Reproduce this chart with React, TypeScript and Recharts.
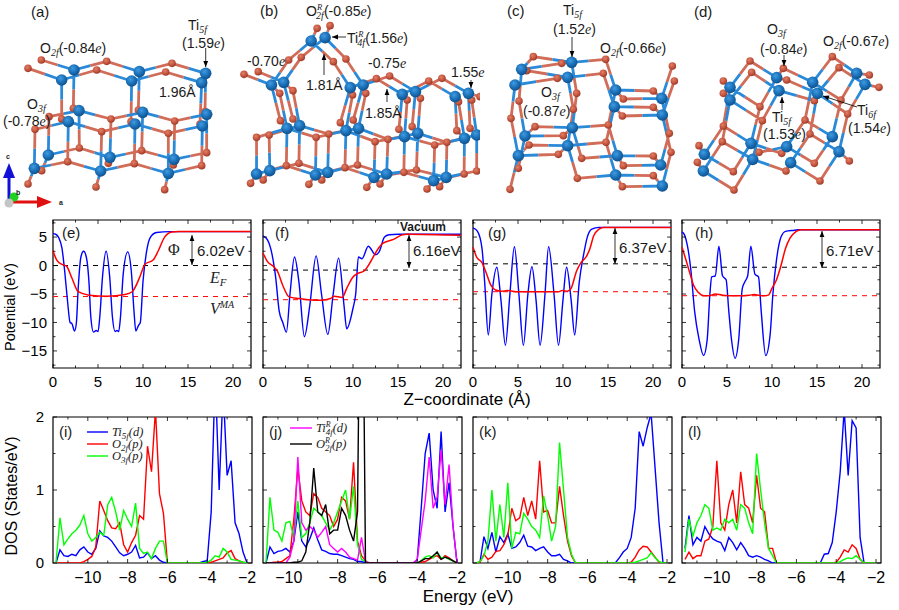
import React from "react";
import { ComposedChart, Line, Scatter, XAxis, YAxis, ReferenceLine, ReferenceArea } from "recharts";

// ---------- potential panels: [z, V] ----------
const potEBlue = [[0,5.6],[0.3,5.5],[0.6,5],[1,3],[1.3,-1],[1.6,-6],[1.9,-10],[2.1,-10.2],[2.4,-11.5],[2.6,-10],[2.8,-4],[3.1,1.5],[3.4,2.5],[3.7,1.5],[4,-3],[4.2,-9],[4.5,-11.7],[4.8,-11.4],[5,-11.6],[5.2,-9],[5.5,-2],[5.9,2.5],[6.3,-2],[6.6,-9],[6.9,-11.6],[7.1,-11.4],[7.3,-11.6],[7.5,-9],[7.8,-1.5],[8.3,2.4],[8.7,-1],[9,-8],[9.2,-11.5],[9.5,-10.5],[9.7,-10],[10,-2.8],[10.4,2.5],[10.8,4.9],[11.5,5.8],[13,5.95],[22,5.95]];
const potERed = [[0,2.6],[0.4,1],[1,0.2],[1.5,-0.1],[2.1,-2.2],[2.8,-4.6],[4,-5.2],[6,-5.4],[8,-5.1],[8.8,-4.6],[9.7,-1.8],[10.2,0.2],[11.15,1],[11.7,2.6],[12.4,5],[13.2,5.9],[14,6],[22,6]];
const potFBlue = [[0,5.2],[0.5,4.5],[1,2],[1.4,-2],[1.8,-8],[2.2,-10],[2.6,-11.7],[3,-5],[3.5,1.5],[4,-3],[4.6,-12.5],[5.2,-7],[5.9,1.7],[6.5,-5],[7.2,-12.1],[7.8,-5],[8.4,1.3],[9,-7],[9.3,-11.1],[10,-7.5],[10.3,-5],[10.6,1.5],[11,1.2],[11.7,3.4],[12.5,1.9],[12.9,2.4],[13.5,5],[14,5.4],[15,5.5],[22,5.5]];
const potFRed = [[0,2.2],[0.5,0.7],[1.2,-0.2],[1.6,-1],[2.2,-3.5],[2.9,-5.5],[4,-5.8],[5,-6],[6.5,-6.1],[7.5,-5.8],[7.9,-5.4],[8.8,-5.6],[9.3,-4],[10,-2],[10.5,-1.4],[11.2,-1],[12,0.8],[12.6,2.5],[13.3,3.9],[14.5,4.6],[15.5,5.4],[16,5.5],[22,5.3]];
const potGBlue = [[0,6.6],[0.5,6],[1,3],[1.3,-3],[1.7,-12.2],[2.1,-5],[2.65,-0.3],[3.1,-6],[3.6,-14],[4.1,-5],[4.6,3.3],[5.1,-5],[5.6,-14],[6.1,-5],[6.55,-0.2],[7,-6],[7.45,-14],[8,-5],[8.4,3.3],[9,-5],[9.5,-14],[10,-6],[10.4,-0.3],[10.9,-6],[11.3,-12.2],[11.8,-3],[12.3,2],[12.7,5],[13.2,6.4],[14,6.7],[22,6.7]];
const potGRed = [[0,3.2],[0.4,1.5],[1,0.5],[1.4,-1],[2,-3.5],[2.5,-4.3],[3.2,-4.5],[3.8,-4.4],[5,-4.6],[8,-4.6],[9.5,-4.6],[9.9,-4.4],[10.5,-4.5],[10.9,-4],[11.5,-1],[12,0.5],[12.6,1.6],[13,3],[13.4,5.2],[14,6.4],[14.5,6.7],[22,6.7]];
const potHBlue = [[0,5.9],[0.3,5.3],[0.6,3.5],[1,-1],[1.4,-8],[1.9,-13],[2.4,-15.8],[2.8,-13],[3.1,-5],[3.3,-2],[3.7,-1.8],[4.1,3.4],[4.5,-1.8],[4.9,-2.5],[5.2,-8],[5.5,-13],[5.9,-16.3],[6.3,-13],[6.7,-4],[7,-2.8],[7.3,-1.8],[7.65,3.4],[8.1,-1.5],[8.5,-2],[8.8,-8],[9.3,-15.8],[9.8,-12],[10.1,-5],[10.5,1],[11,5],[11.5,6],[12.5,6.2],[13,6.3],[22,6.3]];
const potHRed = [[0,3.2],[0.4,1.2],[0.9,-1.5],[1.3,-3.5],[1.8,-4.7],[2.4,-5.3],[3,-5.3],[3.7,-5],[4.5,-5.2],[6,-5.3],[7.5,-5.2],[8,-5.1],[9,-5.3],[9.6,-5.2],[10,-4],[10.5,-2.5],[11,0],[11.5,3],[12,4.8],[12.7,6],[13.2,6.3],[22,6.3]];
const fermiLevels = [0, -0.8, 0.3, -0.3];
const macroAverages = [-5.45, -6, -4.6, -5.3];
const potXTicks = [0, 2.5, 5, 7.5, 10, 12.5, 15, 17.5, 20];
const potYTicks = [-17.5, -15, -12.5, -10, -7.5, -5, -2.5, 0, 2.5, 5, 7.5];

// ---------- DOS panels, all on one energy grid ----------
const energy = [-11.6,-11.4,-11.2,-11,-10.8,-10.6,-10.4,-10.2,-10,-9.8,-9.6,-9.4,-9.2,-9,-8.8,-8.6,-8.4,-8.2,-8,-7.8,-7.6,-7.4,-7.2,-7,-6.8,-6.6,-6.4,-6.2,-6,-5.8,-5.6,-5.4,-5.2,-5,-4.8,-4.6,-4.4,-4.2,-4,-3.8,-3.6,-3.4,-3.2,-3,-2.8,-2.6,-2.4,-2.2,-2];
const dosITi = [0,.18,.1,.09,.12,.1,.18,.22,.15,.12,.2,.44,.37,.35,.3,.22,.14,.1,.12,.15,.24,.07,.08,.14,.06,.1,.04,.01,0,0,0,0,0,0,0,0,0,.02,.03,.7,2.6,1,2.4,1.2,1.4,.55,.4,.15,0];
const dosIO2 = [0,0,0,0,0,0,0,.02,.05,.09,.22,.85,.72,.58,.48,.47,.55,.25,.15,.28,.38,.65,.6,1.6,1.25,2.1,.95,.68,0,0,0,0,0,0,0,0,0,0,0,.01,.03,.05,.07,.14,.17,.06,.03,.01,0];
const dosIO3 = [0,.62,.25,.33,.4,.45,.52,.65,.4,.3,.35,.42,.38,.8,.9,.7,.45,.72,.6,.5,.82,.2,.13,.15,.06,.2,.3,.3,0,0,0,0,0,0,0,0,0,0,.01,.04,.1,.08,.2,.15,.05,.04,.03,.01,0];
const dosJTi = [0,.22,.13,.16,.17,.2,.15,.3,.7,.3,.22,.33,.48,.32,.18,.16,.13,.12,.12,.1,.08,.06,.05,.02,.02,0,0,0,0,0,0,0,0,0,0,0,0,0,.04,.75,1.5,1.78,1,.75,1.8,.7,1.1,.5,0];
const dosJO2 = [0,0,.01,.01,.02,.06,.1,.6,1.3,.85,.7,.65,.95,.9,.75,.7,.65,.5,.6,.9,.85,.6,1.38,.3,.1,.03,0,0,0,0,0,0,0,0,0,0,0,0,0,.01,.02,.05,.08,.1,.05,.1,.07,.03,0];
const dosJO3 = [0,.9,.45,.42,.3,.55,.57,.35,.85,.35,.4,.55,.75,.7,.65,.55,.45,.55,.7,.85,1,.6,1.05,.25,.05,.02,0,0,0,0,0,0,0,0,0,0,0,0,0,.03,.08,.1,.07,.15,.07,.08,.05,.03,0];
const dosJTiR = [0,0,0,0,0,0,.08,.3,1.45,.55,.45,.5,.45,.35,.42,.5,.25,.2,.15,.2,.15,.08,.06,.04,.35,.02,0,0,0,0,0,0,0,0,0,0,0,0,.05,.45,.85,1.45,.75,.9,1.55,.8,1.35,.5,0];
const dosJO2R = [0,0,0,0,0,0,0,.01,.01,.03,.15,.55,1.3,.7,.65,.8,.4,.45,.45,.75,.65,.45,.3,.7,6,0,0,0,0,0,0,0,0,0,0,0,0,0,0,.03,.06,.06,.1,.15,.05,.08,.06,.03,0];
const dosKTi = [0,.01,.36,.2,.42,.15,.36,.28,.4,.2,.22,.28,.38,.23,.22,.17,.2,.22,.15,.1,.1,.12,.05,.03,0,0,0,0,0,0,0,0,0,0,0,0,.07,.15,.2,.35,.75,1.8,1.6,1.85,2.05,1.3,.55,0,0];
const dosKO2 = [0,.01,.12,.05,.08,.16,.17,.25,.38,.75,.58,.62,.9,.65,.85,.6,1.4,.7,.72,.55,.55,1.05,.65,.3,.1,0,0,0,0,0,0,0,0,0,0,0,0,0,0,.01,.08,.18,.23,.22,.15,.08,.01,0,0];
const dosKO3 = [0,.02,.1,.3,1,.3,.8,.35,1.1,.2,.42,.4,.68,.6,.5,.45,.35,.92,.65,.3,.5,1.65,1,.35,.12,0,0,0,0,0,0,0,0,0,0,0,0,0,0,0,.01,.03,.05,.07,.14,.07,.02,0,0];
const dosLTi = [.2,.65,.25,.35,.3,.5,.4,.33,.3,.28,.17,.35,.28,.18,.28,.2,.1,.08,.1,.08,.05,.03,0,0,0,0,0,0,0,0,0,0,0,0,0,.12,.13,.28,.7,1.25,2.1,1.2,1.95,1.85,.35,0,0,0,0];
const dosLO2 = [.05,.15,.06,.1,.1,.3,.33,.5,1.4,.55,.45,.8,1,.55,1.25,.8,.75,.55,1.2,.75,.7,.2,.2,0,0,0,0,0,0,0,0,0,0,0,0,0,0,0,.01,.08,.18,.15,.25,.2,.05,0,0,0,0];
const dosLO3 = [.15,.6,.37,.55,.65,.8,.75,.45,.48,.45,.6,.55,.6,.45,.8,.75,.55,.4,1.5,1,.55,.2,.1,0,0,0,0,0,0,0,0,0,0,0,0,0,0,0,0,.02,.05,.07,.06,.1,.05,0,0,0,0];
const dosXTicks = [-11, -10, -9, -8, -7, -6, -5, -4, -3, -2];
const dosYTicks = [0, 0.5, 1, 1.5, 2];

// ---------- slab structures: chains of atoms in crop pixels x3, alternating O, Ti, O ... ----------
const slabA = [
  [84,205,185,240,290,210,395,243,497,216,605,248],
  [124,180,222,210,320,184,418,215,516,190,617,220],
  [185,357,185,240],[220,325,222,210],[393,365,395,243],[415,330,418,215],[600,372,605,248],[615,335,617,220],
  [105,388,205,365,305,395,405,372,505,400,607,378],
  [147,350,237,332,333,357,428,337,524,363,620,343],
  [203,485,205,365],[403,491,405,372],[605,497,607,378],[238,444,237,332],[425,452,428,337],[620,458,620,343],
  [105,388,103,505],[305,395,302,513],[505,400,505,520],[333,357,330,472],[524,363,522,478],[147,350,145,465],
  [203,485,103,505],[203,485,302,513,403,491,505,520,605,497],
  [238,444,145,465],[238,444,330,472,425,452,522,478,620,458],
  [84,552,103,505],[288,561,302,513],[494,569,505,520],[125,512,145,465],[325,490,330,472],[520,495,522,478],
];
const slabB = [
  [12,223,95,255,147,180,215,123,282,185,333,263,412,236,490,283,570,243,650,290],
  [55,215,132,247,185,172,257,113,320,177,372,255,452,228,530,275,610,235,690,280],
  [725,290,690,280],[233,85,215,123],[272,77,257,113],
  [122,362,95,255],[122,362,142,385],[160,357,132,247],[160,357,180,377],
  [303,368,333,263],[303,368,320,392],[342,360,372,255],[342,360,358,385],
  [480,388,490,283],[480,388,497,410],[520,380,530,275],[520,380,537,400],
  [655,392,650,290],[655,392,678,415],[695,385,690,280],[695,385,715,405],
  [120,280,95,255],[120,280,142,385],[160,272,132,247],[160,272,180,377],
  [340,285,333,263],[340,285,320,392],[380,280,372,255],[380,280,358,385],
  [505,300,490,283],[505,300,497,410],[545,295,530,275],[545,295,537,400],
  [660,305,650,290],[660,305,678,415],[700,300,690,280],[700,300,715,405],
  [50,412,142,385,230,412,320,392,408,425,497,410,588,435,678,415],
  [88,405,180,377,268,402,358,385,447,418,537,400,625,427,715,405],
  [50,412,50,522],[88,405,90,512],[230,412,228,525],[268,402,265,517],[408,425,405,532],[447,418,443,522],[588,435,585,542],[625,427,623,532],
  [140,497,142,385],[178,490,180,377],[317,503,320,392],[355,495,358,385],[495,517,497,410],[533,510,537,400],[677,522,678,415],[715,513,715,405],
  [140,497,50,522],[140,497,228,525,317,503,405,532,495,517,585,542,677,522],
  [178,490,90,512],[178,490,265,517,355,495,443,522,533,510,623,532,715,513],
  [32,550,50,522],[70,540,90,512],[208,553,228,525],[247,540,265,517],[383,562,405,532],[423,552,443,522],[565,567,585,542],[603,560,623,532],
];
const slabC = [
  [160,170,125,208],[160,170,275,187,377,178],[140,212,263,232,370,220],[245,190,125,208],[232,235,105,255],[245,190,275,187],[232,235,263,232],[140,212,125,208],
  [290,280,275,187],[290,280,277,383],[280,328,263,232],[280,328,263,437],
  [377,178,407,270],[370,220,403,320],[520,273,407,270],[520,273,545,295],[520,322,403,320],[520,322,547,345],
  [430,297,407,270],[430,297,545,295],[427,348,403,320],[427,348,547,345],
  [577,198,545,295],[583,243,547,345],[568,400,545,295],[568,400,542,495],[573,457,547,345],[573,457,547,558],
  [385,375,407,270],[385,375,412,467],[378,427,403,320],[378,427,407,525],
  [520,468,412,467],[520,468,542,495],[520,527,407,525],[520,527,547,558],[430,497,412,467],[430,497,542,495],[427,560,407,525],[427,560,547,558],
  [385,375,277,383],[378,427,263,437],[305,475,277,383],[305,475,412,467],[292,535,263,437],[292,535,407,525],
  [165,380,135,408],[165,380,277,383],[147,435,115,467],[147,435,263,437],[250,407,135,408],[250,407,277,383],[235,463,115,467],[235,463,263,437],
  [117,303,125,208],[117,303,135,408],[93,355,105,255],[93,355,115,467],[115,505,135,408],[90,568,115,467],
];
const slabD = [
  [210,183,150,262],[215,217,150,300],[210,183,290,233,320,240],[215,217,297,272,403,302,412,280],
  [310,205,290,233],[310,205,398,247,483,300,530,220,457,170,398,247],[320,240,412,280,503,342,555,253,477,203,412,280],
  [240,320,150,262],[240,320,290,233],[247,362,150,300],[247,362,297,272],
  [375,360,398,247],[375,360,320,440],[390,402,412,280],[390,402,332,488],
  [483,300,457,410],[503,342,477,455],[568,225,530,220],[597,262,555,253],[130,243,150,262],[130,280,150,300],
  [130,378,150,262],[130,378,73,463],[127,425,150,300],[127,425,70,513],
  [57,437,73,463],[52,487,70,513],[160,515,73,463],[160,515,213,430],[162,570,70,513],[162,570,218,478],
  [240,320,213,430],[247,362,218,478],[130,378,213,430],[127,425,218,478],
  [305,460,213,430],[305,460,320,440],[318,513,218,478],[318,513,332,488],[237,457,213,430],[237,457,320,440],
  [403,490,320,440],[403,490,457,410],[420,543,332,488],[420,543,477,455],[375,360,457,410],[390,402,477,455],[508,483,477,455],
];

const FONT = "'Liberation Sans', Arial, sans-serif";
const SERIF = "'Liberation Serif', serif";

const toRows = (pts: number[][]) => pts.map(([x, y]) => ({ x, y }));
const dosRows = (vals: number[]) => energy.map((x, i) => ({ x, y: vals[i] ?? 0 }));

function buildSlab(chains: number[][]) {
  const blue: any[] = [];
  const red: any[] = [];
  const ti = new Map<string, any>();
  const ox = new Map<string, any>();
  chains.forEach((c) => {
    for (let i = 0; i + 3 < c.length; i += 2) {
      const a = { x: c[i], y: c[i + 1] };
      const b = { x: c[i + 2], y: c[i + 3] };
      const oAtom = (i / 2) % 2 === 0 ? a : b;
      const tiAtom = (i / 2) % 2 === 0 ? b : a;
      const mx = (a.x + b.x) / 2;
      const my = (a.y + b.y) / 2;
      blue.push(tiAtom, { x: mx, y: my }, { x: mx, y: null });
      red.push(oAtom, { x: mx, y: my }, { x: mx, y: null });
      ti.set(tiAtom.x + "," + tiAtom.y, tiAtom);
      ox.set(oAtom.x + "," + oAtom.y, oAtom);
    }
  });
  return { blue, red, ti: [...ti.values()], ox: [...ox.values()] };
}

function Slab({ id, chains, left, top, w, h }: any) {
  const s = buildSlab(chains);
  return (
    <div style={{ position: "absolute", left, top }}>
      <ComposedChart width={w} height={h} margin={{ top: 0, right: 0, bottom: 0, left: 0 }} accessibilityLayer={false}>
        <defs>
          <radialGradient id={id + "ti"} cx="40%" cy="35%" r="70%">
            <stop offset="0%" stopColor="#3f9be2" />
            <stop offset="55%" stopColor="#1a6fb6" />
            <stop offset="100%" stopColor="#0f4c85" />
          </radialGradient>
          <radialGradient id={id + "ox"} cx="40%" cy="35%" r="70%">
            <stop offset="0%" stopColor="#e08068" />
            <stop offset="60%" stopColor="#c4523b" />
            <stop offset="100%" stopColor="#8e3627" />
          </radialGradient>
        </defs>
        <XAxis type="number" dataKey="x" domain={[0, w * 3]} hide />
        <YAxis type="number" dataKey="y" domain={[0, h * 3]} reversed hide />
        <Line data={s.red} dataKey="y" stroke="#d06c58" strokeWidth={2.8} dot={false} activeDot={false} legendType="none" isAnimationActive={false} />
        <Line data={s.blue} dataKey="y" stroke="#2b8ad8" strokeWidth={2.8} dot={false} activeDot={false} legendType="none" isAnimationActive={false} />
        <Scatter data={s.ox} dataKey="y" isAnimationActive={false} shape={(p: any) => <circle cx={p.cx} cy={p.cy} r={3.8} fill={`url(#${id}ox)`} />} />
        <Scatter data={s.ti} dataKey="y" isAnimationActive={false} shape={(p: any) => <circle cx={p.cx} cy={p.cy} r={5.8} fill={`url(#${id}ti)`} />} />
      </ComposedChart>
    </div>
  );
}

const xTickMaker = (plotH: number, majors: number[], fs: number, drop: number, shift?: any) => (p: any) => {
  const v = p.payload.value;
  const major = majors.includes(v);
  const len = major ? 4 : 2.5;
  return (
    <g>
      <line x1={p.x} x2={p.x} y1={p.y} y2={p.y - len} stroke="#000" strokeWidth={0.8} />
      <line x1={p.x} x2={p.x} y1={p.y - plotH} y2={p.y - plotH + len} stroke="#000" strokeWidth={0.8} />
      {major && (
        <text x={p.x + (shift ? shift(v) : 0)} y={p.y + drop} textAnchor="middle" fontSize={fs} fontFamily={FONT} fill="#000">
          {String(v).replace("-", "\u2212")}
        </text>
      )}
    </g>
  );
};

const yTickMaker = (plotW: number, majors: number[], fs: number, showLabels: boolean, gap: number) => (p: any) => {
  const v = p.payload.value;
  const major = majors.includes(v);
  const len = major ? 4 : 2.5;
  return (
    <g>
      <line x1={p.x} x2={p.x + len} y1={p.y} y2={p.y} stroke="#000" strokeWidth={0.8} />
      <line x1={p.x + plotW} x2={p.x + plotW - len} y1={p.y} y2={p.y} stroke="#000" strokeWidth={0.8} />
      {major && showLabels && (
        <text x={p.x - gap} y={p.y + fs * 0.36} textAnchor="end" fontSize={fs} fontFamily={FONT} fill="#000">
          {String(v).replace("-", "\u2212")}
        </text>
      )}
    </g>
  );
};

function PotentialPanel({ left, blue, red, ef, vma, showY }: any) {
  const top = 220, w = 198, h = 148;
  return (
    <div style={{ position: "absolute", left: left - 50, top: top - 12 }}>
      <ComposedChart width={w + 56} height={h + 42} margin={{ top: 12, right: 6, bottom: 0, left: 0 }} accessibilityLayer={false}>
        <XAxis type="number" dataKey="x" domain={[0, 22]} ticks={potXTicks} interval={0} height={30} tickSize={0} tickMargin={0} axisLine={false}
          tick={xTickMaker(h, [0, 5, 10, 15, 20], 15, 19)} />
        <YAxis type="number" domain={[-18, 8]} ticks={potYTicks} interval={0} width={50} tickSize={0} tickMargin={0} axisLine={false} allowDataOverflow
          tick={yTickMaker(w, [-15, -10, -5, 0, 5], 15, showY, 6)} />
        <ReferenceLine y={ef} stroke="#000" strokeWidth={1} strokeDasharray="5 5" />
        <ReferenceLine y={vma} stroke="#ff0000" strokeWidth={1} strokeDasharray="5 5" />
        <Line data={toRows(blue)} dataKey="y" type="monotone" stroke="#0000ff" strokeWidth={1.4} dot={false} activeDot={false} isAnimationActive={false} />
        <Line data={toRows(red)} dataKey="y" type="monotone" stroke="#ff0000" strokeWidth={1.5} dot={false} activeDot={false} isAnimationActive={false} />
        <ReferenceArea x1={0} x2={22} y1={-18} y2={8} fill="none" stroke="#000" strokeWidth={1.2} />
      </ComposedChart>
    </div>
  );
}

function DosPanel({ left, series, showY, shift }: any) {
  const top = 417, w = 199, h = 146;
  return (
    <div style={{ position: "absolute", left: left - 50, top: top - 12 }}>
      <ComposedChart width={w + 56} height={h + 42} margin={{ top: 12, right: 6, bottom: 0, left: 0 }} accessibilityLayer={false}>
        <XAxis type="number" dataKey="x" domain={[-11.75, -1.75]} ticks={dosXTicks} interval={0} height={30} tickSize={0} tickMargin={0} axisLine={false} allowDataOverflow
          tick={xTickMaker(h, [-10, -8, -6, -4, -2], 16, 20, shift)} />
        <YAxis type="number" domain={[0, 2]} ticks={dosYTicks} interval={0} width={50} tickSize={0} tickMargin={0} axisLine={false} allowDataOverflow
          tick={yTickMaker(w, [0, 1, 2], 15, showY, 9)} />
        {series.map((s: any, i: number) => (
          <Line key={i} data={dosRows(s.vals)} dataKey="y" stroke={s.color} strokeWidth={1.4} dot={false} activeDot={false} isAnimationActive={false} />
        ))}
        <ReferenceArea x1={-11.75} x2={-1.75} y1={0} y2={2} fill="none" stroke="#000" strokeWidth={1.2} />
      </ComposedChart>
    </div>
  );
}

function Arrow({ x1, y1, x2, y2, both, size = 4 }: any) {
  const ang = Math.atan2(y2 - y1, x2 - x1);
  const head = (x: number, y: number, a: number) => {
    const px = x - Math.cos(a) * size * 1.5, py = y - Math.sin(a) * size * 1.5;
    const nx = -Math.sin(a) * size * 0.6, ny = Math.cos(a) * size * 0.6;
    return <polygon points={`${x},${y} ${px + nx},${py + ny} ${px - nx},${py - ny}`} fill="#000" />;
  };
  return (
    <g>
      <line x1={x1} y1={y1} x2={x2} y2={y2} stroke="#000" strokeWidth={0.8} />
      {head(x2, y2, ang)}
      {both && head(x1, y1, ang + Math.PI)}
    </g>
  );
}

// "O_2f(-0.84e)" style labels
function Chem({ x, y, head, sub, sup, val, paren, size = 14 }: any) {
  const it = { fontFamily: SERIF, fontStyle: "italic" as const };
  return (
    <text x={x} y={y} fontSize={size} fontFamily={FONT} fill="#1a1a1a">
      {head}
      {sup && <tspan dy={-6} fontSize={8.5} {...it}>{sup}</tspan>}
      {sub && <tspan dy={sup ? 9 : 3} dx={sup ? -6 : 0} fontSize={10} {...it}>{sub}</tspan>}
      {val && <tspan dy={sub ? -3 : 0}>{paren ? "(" : ""}{val}</tspan>}
      {val && <tspan {...it}>e</tspan>}
      {val && paren && <tspan>)</tspan>}
    </text>
  );
}

function Txt({ x, y, children, size = 14, anchor, bold }: any) {
  return (
    <text x={x} y={y} fontSize={size} fontFamily={FONT} fill="#1a1a1a" textAnchor={anchor} fontWeight={bold ? "bold" : undefined}>
      {children}
    </text>
  );
}

function LegendLabel({ x, y, head, sub, sup, tail }: any) {
  return (
    <text x={x} y={y} fontSize={12.5} fontFamily={SERIF} fontStyle="italic" fill="#222">
      {head}
      {sup && <tspan dy={-5} fontSize={8}>{sup}</tspan>}
      <tspan dy={sup ? 8 : 3} dx={sup ? -5 : 0} fontSize={9}>{sub}</tspan>
      <tspan dy={-3}>{tail}</tspan>
    </text>
  );
}

function Overlay() {
  return (
    <svg width={899} height={610} style={{ position: "absolute", left: 0, top: 0, pointerEvents: "none" }}>
      {/* panel letters */}
      <Txt x={31} y={17} size={15}>(a)</Txt>
      <Txt x={260} y={16} size={15}>(b)</Txt>
      <Txt x={507} y={16} size={15}>(c)</Txt>
      <Txt x={694} y={17} size={15}>(d)</Txt>
      <Txt x={62} y={238} size={15}>(e)</Txt>
      <Txt x={275} y={238} size={15}>(f)</Txt>
      <Txt x={488} y={238} size={15}>(g)</Txt>
      <Txt x={695} y={238} size={15}>(h)</Txt>
      <Txt x={59} y={437} size={15}>(i)</Txt>
      <Txt x={269} y={437} size={15}>(j)</Txt>
      <Txt x={479} y={437} size={15}>(k)</Txt>
      <Txt x={688} y={437} size={15}>(l)</Txt>

      {/* slab a */}
      <Chem x={188} y={30} head="Ti" sub="5f" />
      <Chem x={182} y={48} val="1.59" paren />
      <Arrow x1={205.7} y1={48} x2={205.7} y2={67} />
      <Chem x={40} y={53} head="O" sub="2f" val="-0.84" paren />
      <Txt x={159} y={97}>1.96Å</Txt>
      <Chem x={27} y={109} head="O" sub="3f" />
      <Chem x={3} y={126} val="-0.78" paren />
      {/* axes gizmo */}
      <line x1={9} y1={202} x2={9} y2={172} stroke="#1010d8" strokeWidth={3} />
      <polygon points="9,163 3,178 15,178" fill="#1010d8" />
      <line x1={9} y1={202} x2={42} y2={202} stroke="#e01010" strokeWidth={3} />
      <polygon points="52,202 37,196 37,208" fill="#e01010" />
      <circle cx={14} cy={197} r={4.5} fill="#22d022" />
      <circle cx={9} cy={203} r={4.5} fill="#c4c4c4" />
      <Txt x={6} y={159} size={7} bold>c</Txt>
      <Txt x={16} y={195} size={7} bold>b</Txt>
      <Txt x={59} y={205} size={7} bold>a</Txt>

      {/* slab b */}
      <Chem x={306} y={16} head="O" sup="R" sub="2f" val="-0.85" paren />
      <Chem x={347} y={43} head="Ti" sup="R" sub="4f" val="1.56" paren />
      <Arrow x1={346} y1={37} x2={332} y2={37} />
      <Chem x={247} y={66} val="-0.70" />
      <Txt x={306} y={90}>1.81Å</Txt>
      <Arrow x1={324} y1={75} x2={324} y2={54} />
      <Chem x={368} y={68} val="-0.75" />
      <Txt x={365} y={118}>1.85Å</Txt>
      <Arrow x1={387} y1={102} x2={387} y2={89} />
      <Chem x={451} y={77} val="1.55" />
      <Arrow x1={471} y1={80} x2={471} y2={88} />

      {/* slab c */}
      <Chem x={563} y={15} head="Ti" sub="5f" />
      <Chem x={553} y={34} val="1.52" paren />
      <Arrow x1={572} y1={37} x2={572} y2={57} />
      <Chem x={600} y={53} head="O" sub="2f" val="-0.66" paren />
      <Chem x={541} y={97} head="O" sub="3f" />
      <Chem x={523} y={116} val="-0.87" paren />

      {/* slab d */}
      <Chem x={767} y={34} head="O" sub="3f" />
      <Chem x={760} y={54} val="-0.84" paren />
      <Arrow x1={784} y1={55} x2={784} y2={66} />
      <Chem x={823} y={46} head="O" sub="2f" val="-0.67" paren />
      <Chem x={772} y={122} head="Ti" sub="5f" />
      <Chem x={763} y={139} val="1.53" paren />
      <Arrow x1={782} y1={110} x2={782} y2={97} />
      <Chem x={857} y={115} head="Ti" sub="6f" />
      <Chem x={848} y={133} val="1.54" paren />
      <Arrow x1={857} y1={107} x2={823} y2={96} />

      {/* potential annotations */}
      <text x={168} y={255} fontSize={16} fontFamily={SERIF} fill="#222">Φ</text>
      <Arrow x1={192} y1={235} x2={192} y2={265} both />
      <Txt x={197} y={256} size={15}>6.02eV</Txt>
      <text x={210} y={283} fontSize={16} fontFamily={SERIF} fontStyle="italic" fill="#222">E<tspan dy={3} fontSize={11}>F</tspan></text>
      <text x={210} y={314} fontSize={16} fontFamily={SERIF} fontStyle="italic" fill="#222">V<tspan dy={-6} fontSize={10}>MA</tspan></text>
      <Txt x={400} y={231} size={12} bold>Vacuum</Txt>
      <Arrow x1={409} y1={235} x2={409} y2={268} both />
      <Txt x={413} y={256} size={15}>6.16eV</Txt>
      <Arrow x1={615} y1={228} x2={615} y2={264} both />
      <Txt x={619} y={253} size={15}>6.37eV</Txt>
      <Arrow x1={822} y1={231} x2={822} y2={268} both />
      <Txt x={826} y={256} size={15}>6.71eV</Txt>

      {/* legends */}
      <line x1={87} x2={108} y1={432} y2={432} stroke="#0000ff" strokeWidth={1.4} />
      <line x1={87} x2={108} y1={444} y2={444} stroke="#ff0000" strokeWidth={1.4} />
      <line x1={87} x2={108} y1={456} y2={456} stroke="#00ff00" strokeWidth={1.4} />
      <LegendLabel x={112} y={436} head="Ti" sub="5f" tail="(d)" />
      <LegendLabel x={112} y={448} head="O" sub="2f" tail="(p)" />
      <LegendLabel x={112} y={460} head="O" sub="3f" tail="(p)" />
      <line x1={290} x2={312} y1={428} y2={428} stroke="#ff00ff" strokeWidth={1.4} />
      <line x1={290} x2={312} y1={444} y2={444} stroke="#000" strokeWidth={1.4} />
      <LegendLabel x={316} y={432} head="Ti" sup="R" sub="4f" tail="(d)" />
      <LegendLabel x={316} y={448} head="O" sup="R" sub="2f" tail="(p)" />

      {/* axis titles */}
      <text transform="translate(15,307) rotate(-90)" textAnchor="middle" fontSize={14.5} fontFamily={FONT} fill="#000">Potential (eV)</text>
      <text transform="translate(17,496) rotate(-90)" textAnchor="middle" fontSize={16} fontFamily={FONT} fill="#000">DOS (States/eV)</text>
      <text x={467} y={405} textAnchor="middle" fontSize={17} fontFamily={FONT} fill="#000">Z−coordinate (Å)</text>
      <text x={468} y={602} textAnchor="middle" fontSize={17} fontFamily={FONT} fill="#000">Energy (eV)</text>
    </svg>
  );
}

const BLUE = "#0000ff", RED = "#ff0000", GREEN = "#00ff00", MAGENTA = "#ff00ff", BLACK = "#000000";

export default function App() {
  return (
    <div style={{ position: "absolute", left: 0, top: 0, width: 899, height: 610, background: "#fff", overflow: "hidden" }}>
      <Slab id="a" chains={slabA} left={0} top={0} w={240} h={215} />
      <Slab id="b" chains={slabB} left={240} top={0} w={240} h={215} />
      <Slab id="c" chains={slabC} left={480} top={0} w={210} h={215} />
      <Slab id="d" chains={slabD} left={680} top={0} w={219} h={215} />

      <PotentialPanel left={53} blue={potEBlue} red={potERed} ef={fermiLevels[0]} vma={macroAverages[0]} showY />
      <PotentialPanel left={263} blue={potFBlue} red={potFRed} ef={fermiLevels[1]} vma={macroAverages[1]} />
      <PotentialPanel left={473} blue={potGBlue} red={potGRed} ef={fermiLevels[2]} vma={macroAverages[2]} />
      <PotentialPanel left={682} blue={potHBlue} red={potHRed} ef={fermiLevels[3]} vma={macroAverages[3]} />

      <DosPanel left={53} showY series={[{ vals: dosITi, color: BLUE }, { vals: dosIO2, color: RED }, { vals: dosIO3, color: GREEN }]} />
      <DosPanel left={262.5} shift={(v: number) => (v === -10 ? -9 : 0)} series={[{ vals: dosJTi, color: BLUE }, { vals: dosJO2, color: RED }, { vals: dosJO3, color: GREEN }, { vals: dosJTiR, color: MAGENTA }, { vals: dosJO2R, color: BLACK }]} />
      <DosPanel left={472.5} series={[{ vals: dosKTi, color: BLUE }, { vals: dosKO2, color: RED }, { vals: dosKO3, color: GREEN }]} />
      <DosPanel left={682} series={[{ vals: dosLTi, color: BLUE }, { vals: dosLO2, color: RED }, { vals: dosLO3, color: GREEN }]} />

      <Overlay />
    </div>
  );
}
